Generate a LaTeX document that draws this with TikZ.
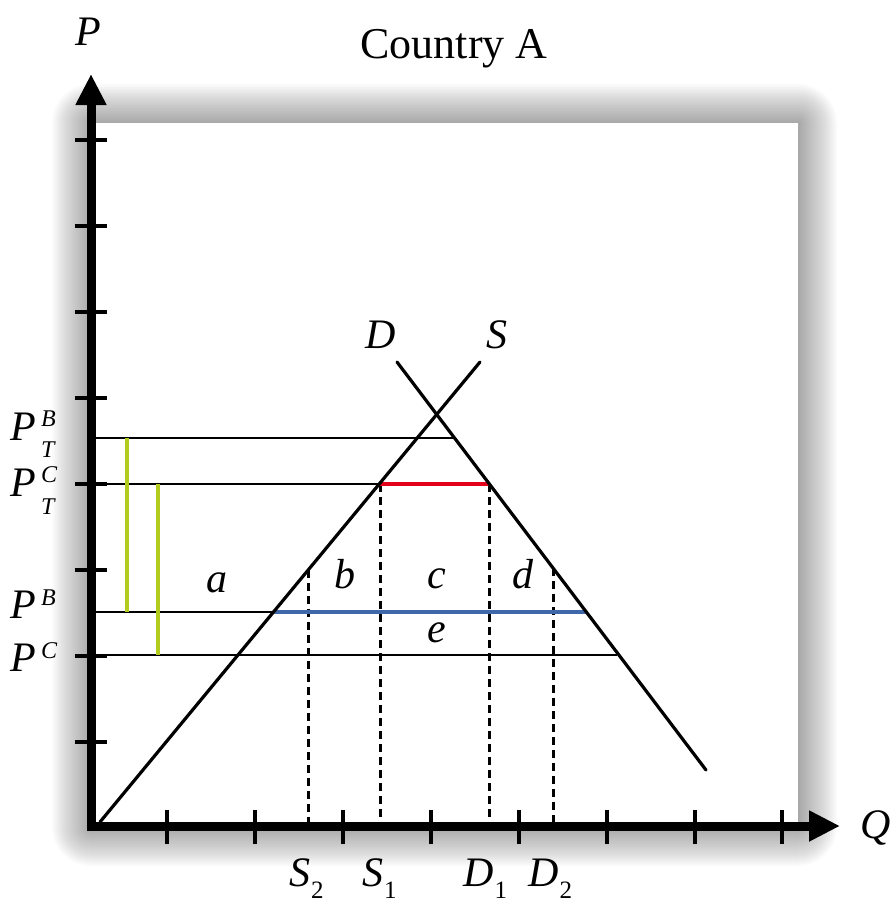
\documentclass[tikz,border=0pt]{standalone}
\usepackage{fontspec}
\setmainfont{Liberation Serif}
\usetikzlibrary{arrows.meta}
\definecolor{tgreen}{HTML}{B2CB1C}
\definecolor{tred}{HTML}{E3001B}
\definecolor{tblue}{HTML}{3F68AA}
\newcommand\bigfont{\fontsize{42}{42}\selectfont\itshape}
\newcommand\smallfont{\fontsize{24}{24}\selectfont\itshape}
\newcommand\QSub[2]{#1\kern1pt\raisebox{-12pt}{\fontsize{25}{25}\selectfont\upshape #2}}
\begin{document}
\begin{tikzpicture}[x=1pt,y=-1pt,
  curve/.style={line width=3.2pt,black,line cap=round},
  hline/.style={line width=2.8pt,black},
  vdashed/.style={line width=3pt,black,dash pattern=on 8pt off 5pt},
  greenbar/.style={line width=4.2pt,tgreen},
  axisline/.style={line width=9pt,black},
  tickline/.style={line width=4pt,black},
  lbl/.style={inner sep=0pt,anchor=base west,font=\bigfont},
  slbl/.style={inner sep=0pt,anchor=base west,font=\smallfont},
  letter/.style={inner sep=0pt,anchor=base,font=\bigfont}]
\useasboundingbox (0,0) rectangle (896,914);
% glow / shadow around panel
\foreach \i in {1,...,26} {
  \fill[black,opacity=0.017,rounded corners=\i*1.5pt]
    ({91-\i*1.5},{123-\i*1.5}) rectangle ({798+\i*1.5},{827+\i*1.5});
}
\fill[white] (91,123) rectangle (798,827);
% coordinates
\coordinate (O) at (91,826);
\coordinate (Sbot) at (100,822);
\coordinate (Stop) at (480,362);
\coordinate (Dtop) at (397,362);
\coordinate (Dbot) at (706,770);
\coordinate (PTBl) at (91,438);
\coordinate (PTBd) at (455,438);
\coordinate (PTCl) at (91,484);
\coordinate (PTCs) at (380,484);
\coordinate (PTCd) at (489,484);
\coordinate (PBl) at (91,612);
\coordinate (PBs) at (274,612);
\coordinate (PBd) at (586,612);
\coordinate (PCl) at (91,655);
\coordinate (PCd) at (617,655);
\coordinate (S2t) at (308,570);
\coordinate (S2b) at (308,826);
\coordinate (S1b) at (380,826);
\coordinate (D1b) at (489,826);
\coordinate (D2t) at (553,568);
\coordinate (D2b) at (553,826);
\coordinate (G1t) at (127,438);
\coordinate (G1b) at (127,612);
\coordinate (G2t) at (158,484);
\coordinate (G2b) at (158,655);
% horizontal price lines
\draw[hline] (PTBl) -- (PTBd);
\draw[hline] (PTCl) -- (PTCs);
\draw[hline] (PBl) -- (PBs);
\draw[hline] (PCl) -- (PCd);
% dashed quantity lines
\draw[vdashed] (S2t) -- (S2b);
\draw[vdashed] (PTCs) -- (S1b);
\draw[vdashed] (PTCd) -- (D1b);
\draw[vdashed] (D2t) -- (D2b);
% coloured segments
\draw[line width=4.2pt,tred] (PTCs) -- (PTCd);
\draw[line width=3.4pt,tblue] (PBs) -- (PBd);
\draw[greenbar] (G1t) -- (G1b);
\draw[greenbar] (G2t) -- (G2b);
% supply and demand
\draw[curve] (Sbot) -- (Stop);
\draw[curve] (Dtop) -- (Dbot);
% axes
\coordinate (Ytip) at (91,74);
\coordinate (Ystart) at (91,830.5);
\coordinate (Xtip) at (840,826);
\coordinate (Xstart) at (86.5,826);
\draw[axisline,-{Triangle[length=31pt,width=29pt]}] (Ystart) -- (Ytip);
\draw[axisline,-{Triangle[length=31pt,width=29pt]}] (Xstart) -- (Xtip);
\foreach \y in {140,226,312,398,484,570,656,742} {
  \draw[tickline] (75,\y) -- (107,\y);
}
\foreach \x in {167,255,343,431,519,607,695,782} {
  \draw[tickline] (\x,810) -- (\x,844);
}
% labels
\node[inner sep=0pt,anchor=base,font=\fontsize{44}{44}\selectfont] (title) at (454,58) {Country A};
\node[lbl] (Plab) at (75,45) {P};
\node[lbl] (Qlab) at (860,838) {Q};
\node[lbl] (Dlab) at (365,348) {D};
\node[lbl] (Slab) at (486,348) {S};
% price labels on the vertical axis
\node[lbl] (PTB) at (10,440) {P};
\node[slbl] (PTBsup) at (41,426) {B};
\node[slbl] (PTBsub) at (41,457) {T};
\node[lbl] (PTC) at (10,496) {P};
\node[slbl] (PTCsup) at (41,482) {C};
\node[slbl] (PTCsub) at (41,514) {T};
\node[lbl] (PB) at (10,618) {P};
\node[slbl] (PBsup) at (41,605) {B};
\node[lbl] (PC) at (10,671) {P};
\node[slbl] (PCsup) at (41,658) {C};
% quantity labels
\node[lbl] (S2) at (289,886) {\QSub{S}{2}};
\node[lbl] (S1) at (362,886) {\QSub{S}{1}};
\node[lbl] (D1) at (463,886) {\QSub{D}{1}};
\node[lbl] (D2) at (528,886) {\QSub{D}{2}};
% area labels
\node[letter] (la) at (217,592) {a};
\node[letter] (lb) at (345,588) {b};
\node[letter] (lc) at (437,588) {c};
\node[letter] (ld) at (523,588) {d};
\node[letter] (le) at (437,642) {e};
\end{tikzpicture}
\end{document}
